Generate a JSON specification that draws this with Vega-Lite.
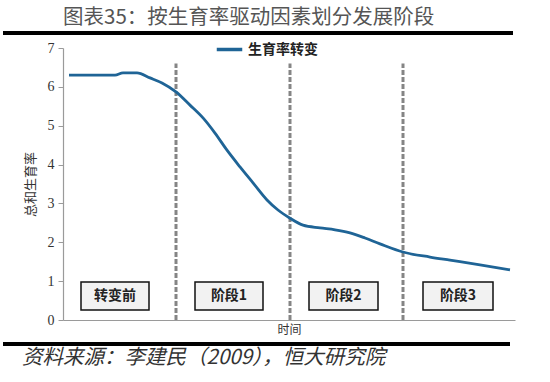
{
  "$schema": "https://vega.github.io/schema/vega-lite/v6.json",
  "width": 452,
  "height": 272,
  "autosize": {"type": "none"},
  "padding": {"left": 63, "top": 48, "right": 35, "bottom": 62},
  "background": "white",
  "title": {
    "text": "图表35：按生育率驱动因素划分发展阶段",
    "anchor": "start",
    "frame": "group",
    "offset": 3,
    "font": "Noto Sans CJK SC",
    "fontSize": 20.5,
    "fontWeight": "normal",
    "color": "#555555"
  },
  "datasets": {
    "tfr": [
      {"t": 6, "v": 6.30, "series": "生育率转变"},
      {"t": 52, "v": 6.30, "series": "生育率转变"},
      {"t": 60, "v": 6.36, "series": "生育率转变"},
      {"t": 74, "v": 6.36, "series": "生育率转变"},
      {"t": 87, "v": 6.23, "series": "生育率转变"},
      {"t": 99, "v": 6.10, "series": "生育率转变"},
      {"t": 113, "v": 5.87, "series": "生育率转变"},
      {"t": 127, "v": 5.53, "series": "生育率转变"},
      {"t": 140, "v": 5.20, "series": "生育率转变"},
      {"t": 152, "v": 4.81, "series": "生育率转变"},
      {"t": 164, "v": 4.37, "series": "生育率转变"},
      {"t": 177, "v": 3.94, "series": "生育率转变"},
      {"t": 190, "v": 3.53, "series": "生育率转变"},
      {"t": 204, "v": 3.09, "series": "生育率转变"},
      {"t": 215, "v": 2.83, "series": "生育率转变"},
      {"t": 227, "v": 2.62, "series": "生育率转变"},
      {"t": 240, "v": 2.44, "series": "生育率转变"},
      {"t": 257, "v": 2.37, "series": "生育率转变"},
      {"t": 272, "v": 2.32, "series": "生育率转变"},
      {"t": 287, "v": 2.24, "series": "生育率转变"},
      {"t": 302, "v": 2.11, "series": "生育率转变"},
      {"t": 317, "v": 1.96, "series": "生育率转变"},
      {"t": 340, "v": 1.75, "series": "生育率转变"},
      {"t": 367, "v": 1.62, "series": "生育率转变"},
      {"t": 387, "v": 1.54, "series": "生育率转变"},
      {"t": 417, "v": 1.42, "series": "生育率转变"},
      {"t": 447, "v": 1.29, "series": "生育率转变"}
    ],
    "dividers": [
      {"t": 113, "v": 0, "v2": 6.6},
      {"t": 227, "v": 0, "v2": 6.6},
      {"t": 340, "v": 0, "v2": 6.6}
    ],
    "stages": [
      {"t": 18, "t2": 86, "v": 0.26, "v2": 0.98, "mid": 52, "vm": 0.62, "label": "转变前"},
      {"t": 132, "t2": 200, "v": 0.26, "v2": 0.98, "mid": 166, "vm": 0.62, "label": "阶段1"},
      {"t": 246, "t2": 315, "v": 0.26, "v2": 0.98, "mid": 280.5, "vm": 0.62, "label": "阶段2"},
      {"t": 360, "t2": 430, "v": 0.26, "v2": 0.98, "mid": 395, "vm": 0.62, "label": "阶段3"}
    ],
    "frames": [
      {"t": -60, "t2": 450, "v": 7.385, "c": "black"},
      {"t": -60, "t2": 447, "v": -0.618, "c": "black"}
    ],
    "source": [
      {"t": -41, "v": -0.98, "label": "资料来源：李建民（2009），恒大研究院"}
    ]
  },
  "layer": [
    {
      "data": {"name": "source"},
      "mark": {"type": "text", "align": "left", "baseline": "middle", "font": "Noto Sans CJK SC", "fontSize": 20.5, "fontStyle": "italic", "color": "#333333"},
      "encoding": {
        "x": {"field": "t", "type": "quantitative", "scale": {"domain": [0, 452], "nice": false, "zero": false}, "axis": {"title": "时间", "labels": false, "ticks": false, "grid": false}},
        "y": {"field": "v", "type": "quantitative", "scale": {"domain": [0, 7], "nice": false, "zero": false}, "axis": {"title": "总和生育率", "values": [0, 1, 2, 3, 4, 5, 6, 7], "grid": false}},
        "text": {"field": "label"}
      }
    },
    {
      "data": {"name": "dividers"},
      "mark": {"type": "rule", "color": "#858585", "strokeWidth": 3, "strokeDash": [5, 2]},
      "encoding": {
        "x": {"field": "t", "type": "quantitative", "axis": {"title": "时间", "labels": false, "ticks": false, "grid": false}},
        "y": {"field": "v", "type": "quantitative", "axis": {"title": "总和生育率", "values": [0, 1, 2, 3, 4, 5, 6, 7], "grid": false}},
        "y2": {"field": "v2"}
      }
    },
    {
      "data": {"name": "stages"},
      "mark": {"type": "rect", "fill": "#f2f2f2", "stroke": "#111111", "strokeWidth": 1.5},
      "encoding": {
        "x": {"field": "t", "type": "quantitative", "axis": {"title": "时间", "labels": false, "ticks": false, "grid": false}},
        "x2": {"field": "t2"},
        "y": {"field": "v", "type": "quantitative", "axis": {"title": "总和生育率", "values": [0, 1, 2, 3, 4, 5, 6, 7], "grid": false}},
        "y2": {"field": "v2"}
      }
    },
    {
      "data": {"name": "stages"},
      "mark": {"type": "text", "align": "center", "baseline": "middle", "font": "Noto Sans CJK SC", "fontSize": 14, "fontWeight": "bold", "color": "#222222"},
      "encoding": {
        "x": {"field": "mid", "type": "quantitative", "axis": {"title": "时间", "labels": false, "ticks": false, "grid": false}},
        "y": {"field": "vm", "type": "quantitative", "axis": {"title": "总和生育率", "values": [0, 1, 2, 3, 4, 5, 6, 7], "grid": false}},
        "text": {"field": "label"}
      }
    },
    {
      "data": {"name": "tfr"},
      "mark": {"type": "line", "strokeWidth": 2.8, "interpolate": "monotone"},
      "encoding": {
        "x": {"field": "t", "type": "quantitative", "axis": {"title": "时间", "labels": false, "ticks": false, "grid": false}},
        "y": {"field": "v", "type": "quantitative", "axis": {"title": "总和生育率", "values": [0, 1, 2, 3, 4, 5, 6, 7], "grid": false}},
        "color": {
          "field": "series",
          "type": "nominal",
          "scale": {"range": ["#1f6496"]},
          "legend": {
            "title": null,
            "orient": "none",
            "legendX": 152,
            "legendY": -13,
            "symbolType": "stroke",
            "symbolSize": 650,
            "symbolStrokeWidth": 3.5,
            "labelFont": "Noto Sans CJK SC",
            "labelFontSize": 14,
            "labelFontWeight": "bold",
            "labelColor": "#222222"
          }
        }
      }
    },
    {
      "data": {"name": "frames"},
      "mark": {"type": "rule", "strokeWidth": 4},
      "encoding": {
        "x": {"field": "t", "type": "quantitative", "axis": {"title": "时间", "labels": false, "ticks": false, "grid": false}},
        "x2": {"field": "t2"},
        "y": {"field": "v", "type": "quantitative", "axis": {"title": "总和生育率", "values": [0, 1, 2, 3, 4, 5, 6, 7], "grid": false}},
        "stroke": {"field": "c", "type": "nominal", "scale": null}
      }
    }
  ],
  "config": {
    "view": {"stroke": null},
    "axis": {
      "domainColor": "#9a9a9a",
      "domainWidth": 1.2,
      "tickColor": "#9a9a9a",
      "tickSize": 5,
      "labelFont": "Liberation Serif",
      "labelFontSize": 14,
      "labelColor": "#333333",
      "labelPadding": 4,
      "titleFont": "Noto Sans CJK SC",
      "titleFontWeight": "normal",
      "titleColor": "#333333"
    },
    "axisY": {"titlePadding": 10, "titleFontSize": 13},
    "axisX": {"titlePadding": 4, "titleFontSize": 12}
  }
}
